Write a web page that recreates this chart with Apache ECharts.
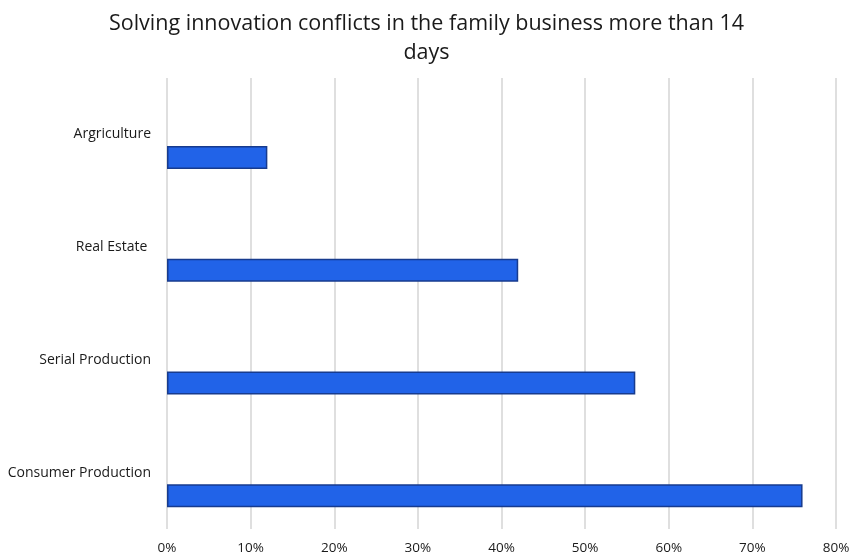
<!DOCTYPE html>
<html>
<head>
<meta charset="utf-8">
<script src="https://cdn.jsdelivr.net/npm/echarts@6/dist/echarts.min.js"></script>
<style>html,body{margin:0;padding:0;background:#fff}#c{width:853px;height:559px}</style>
</head>
<body>
<div id="c"></div>
<script>
const titleText = "Solving innovation conflicts in the family business more than 14\ndays";
const categories = ["Argriculture", "Real Estate ", "Serial Production", "Consumer Production"];
const values = [0.12, 0.42, 0.56, 0.76];
const emptySeries = [null, null, null, null];

const chart = echarts.init(document.getElementById('c'));
chart.setOption({
  animation: false,
  title: {
    text: titleText,
    left: 'center',
    top: 4,
    textStyle: { fontFamily: 'Open Sans', fontSize: 21.5, fontWeight: 'normal', color: '#1a1a1a', lineHeight: 29 }
  },
  grid: { left: 167, right: 17, top: 78, bottom: 30 },
  xAxis: {
    type: 'value', min: 0, max: 0.8, interval: 0.1,
    axisLine: { show: false }, axisTick: { show: false },
    splitLine: { lineStyle: { color: '#d4d4d4', width: 1.5 } },
    axisLabel: {
      margin: 12, color: '#1a1a1a', fontFamily: 'Open Sans', fontSize: 13.5,
      formatter: v => Math.round(v * 100) + '%'
    }
  },
  yAxis: {
    type: 'category', data: categories, inverse: true,
    axisLine: { show: false }, axisTick: { show: false },
    axisLabel: { margin: 16, color: '#1a1a1a', fontFamily: 'Open Sans', fontSize: 14 }
  },
  series: [
    { type: 'bar', data: emptySeries, barWidth: 23, barGap: '100%' },
    {
      type: 'bar', data: values, barWidth: 23, barGap: '100%',
      itemStyle: { color: '#2163E8', borderColor: '#173B8E', borderWidth: 1.5 }
    }
  ]
});
</script>
</body>
</html>
